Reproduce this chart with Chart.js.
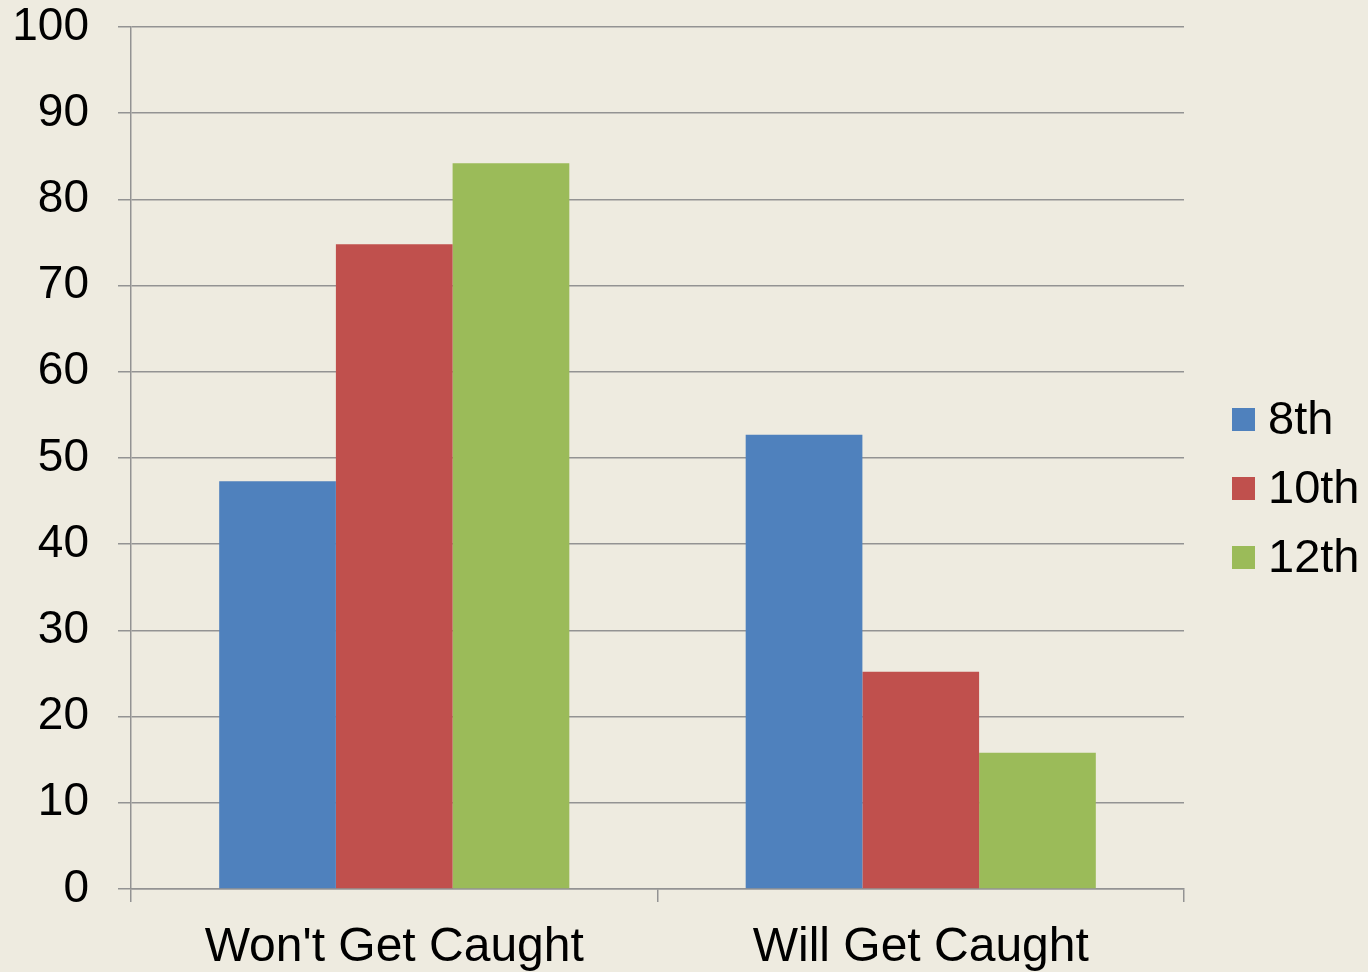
<!DOCTYPE html>
<html lang="en">
<head>
    <meta charset="UTF-8">
    <title>Caught</title>
    <script src="https://cdn.jsdelivr.net/npm/chart.js"></script>
    <style>
        html, body { margin: 0; padding: 0; background: #eeebe0; }
        #wrap { width: 1368px; height: 972px; }
    </style>
</head>
<body>
    <div id="wrap">
        <canvas id="grafico" width="1368" height="972"></canvas>
    </div>

    <script>
        const categorias = ["Won't Get Caught", "Will Get Caught"];
        const oitavo = [47.3, 52.7];
        const decimo = [74.8, 25.2];
        const decimoSegundo = [84.2, 15.8];

        const fonte = 'Liberation Sans, Arial, sans-serif';
        const cinza = '#939393';

        // legenda desenhada a mao, para ficar igual ao original
        const legendaLateral = {
            id: 'legendaLateral',
            afterDraw(chart) {
                const ctx = chart.ctx;
                const x0 = chart.chartArea.right + 48;
                const meio = chart.height / 2 + 3;
                ctx.save();
                ctx.font = '47px ' + fonte;
                ctx.textBaseline = 'middle';
                ctx.textAlign = 'left';
                chart.data.datasets.forEach((ds, i) => {
                    const y = meio + (i - 1) * 69;
                    ctx.fillStyle = ds.backgroundColor;
                    ctx.fillRect(x0, y - 12, 23, 23);
                    ctx.fillStyle = '#000';
                    ctx.fillText(ds.label, x0 + 36, y + 1);
                });
                ctx.restore();
            }
        };

        new Chart(document.getElementById('grafico'), {
            type: 'bar',
            data: {
                labels: categorias,
                datasets: [
                    { label: '8th', data: oitavo, backgroundColor: '#4f81bd' },
                    { label: '10th', data: decimo, backgroundColor: '#c0504d' },
                    { label: '12th', data: decimoSegundo, backgroundColor: '#9bbb59' }
                ]
            },
            options: {
                responsive: false,
                animation: false,
                layout: { padding: { left: 0, top: 27, right: 184, bottom: 0 } },
                datasets: {
                    bar: { barPercentage: 1, categoryPercentage: 0.665, borderWidth: 0 }
                },
                scales: {
                    x: {
                        grid: { offset: true, drawOnChartArea: false, color: cinza, lineWidth: 1.5, tickLength: 13 },
                        border: { color: cinza, width: 1.5 },
                        ticks: { color: '#000', font: { family: fonte, size: 48 }, padding: 17 },
                        afterFit: s => { s.height = 83; s.paddingLeft = 0; s.paddingRight = 0; }
                    },
                    y: {
                        min: 0,
                        max: 100,
                        ticks: { stepSize: 10, color: '#000', font: { family: fonte, size: 46 }, padding: 29 },
                        grid: { color: cinza, lineWidth: 1.5, tickLength: 13 },
                        border: { color: cinza, width: 1.5 },
                        afterFit: s => { s.width = 131; s.paddingTop = 0; s.paddingBottom = 0; }
                    }
                },
                plugins: {
                    tooltip: { enabled: false },
                    legend: { display: false }
                }
            },
            plugins: [legendaLateral]
        });
    </script>
</body>
</html>
